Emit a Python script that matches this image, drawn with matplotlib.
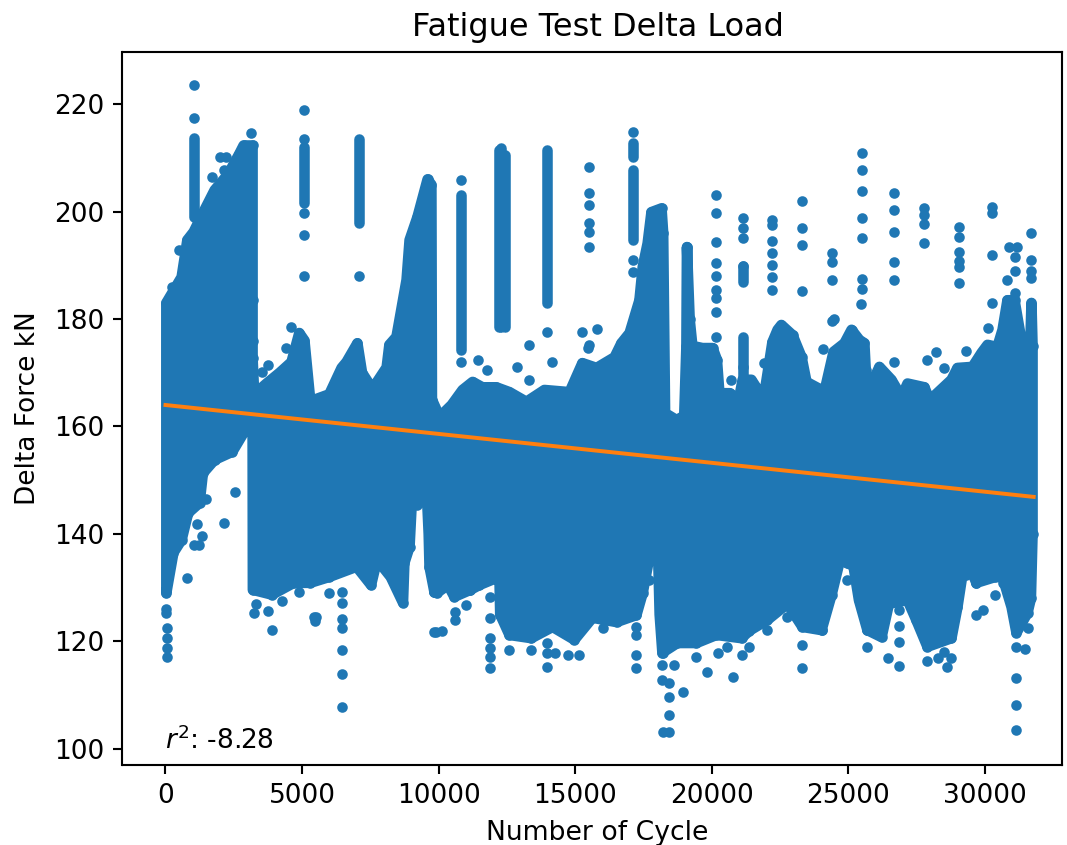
import numpy as np
import matplotlib
matplotlib.use("Agg")
import matplotlib.pyplot as plt

# The dense part of the scatter cannot be read point by point, so it is kept
# as its outline: top and bottom edges of the cloud.
upper_cycle = [30, 590, 800, 1030, 1430, 1800, 2300, 2710, 2860, 3190, 3190, 3190, 3190, 3250, 3700, 4180,
               4615, 4900, 5090, 5300, 5460, 6000, 6450, 6630, 7030, 7200, 7580, 8100, 8200, 8460, 8830,
               8940, 9230, 9600, 9740, 9760, 10040, 10480, 10880, 11250, 11610, 12120, 12600, 13220, 13880,
               14800, 15270, 15790, 16450, 16700, 17000, 17360, 17480, 17660, 17800, 18170, 18230, 18300,
               18720, 19000, 19080, 19100, 19200, 19300, 19670, 20040, 20200, 20290, 20660, 21000, 21140,
               21460, 21650, 21940, 22230, 22420, 22560, 22970, 23300, 23480, 24030, 24150, 24470, 24870,
               25130, 25420, 25600, 25650, 25710, 26150, 26590, 26960, 27180, 27800, 27990, 28790, 29010,
               29560, 29890, 30110, 30470, 30660, 30840, 31100, 31350, 31460, 31650, 31720, 31760]
upper_force = [183, 187.8, 194.7, 196.2, 200.3, 204, 207, 210.8, 212.3, 212.3, 183.5, 176, 172.7, 166, 168,
               170, 172, 177.4, 176, 165, 165, 166, 170.9, 172, 175.5, 170, 167, 171, 175.2, 176.7, 187.3,
               194.7, 199, 206, 205, 165, 161.8, 164, 166.8, 168.3, 167.3, 167.3, 166.4, 164.6, 166.8,
               166.4, 171.8, 170.9, 172.9, 175.5, 177.4, 183.5, 189.7, 194.1, 199.9, 200.6, 196, 162.5,
               161.2, 162, 175, 193.4, 180, 175, 174.6, 174.6, 172.4, 166.2, 166.2, 165, 168.7,
               168.7, 167.2, 166.2, 175.7, 178, 178.9, 177, 172.9, 168.3, 166.8, 166.8, 173.9, 175.5,
               178, 176.1, 175.5, 170.5, 166.2, 171.1, 168.7, 165.5, 168, 167.3, 164.9, 168.7, 170.9,
               171.1, 173.7, 175.2, 174.8, 178, 183.5, 183.5, 176.1, 170.5, 170.5, 183, 175]
lower_cycle = [30, 290, 590, 830, 1250, 1370, 1800, 2450, 3000, 3190, 3200, 3900, 4700, 5300, 6000, 7000,
               7530, 7750, 8250, 8700, 8750, 8940, 9050, 9370, 9550, 9640, 9670, 9850, 9930, 10350, 10580,
               11170, 11500, 12120, 12200, 12260, 12600, 13400, 14180, 14980, 15640, 16520, 17250, 17480,
               17700, 17840, 17900, 18050, 18100, 18200, 18750, 19450, 20180, 21100, 21390, 22050, 22780,
               23330, 24030, 24400, 24700, 24980, 25200, 25400, 25710, 26230, 26500, 27180, 27500, 27910,
               28790, 29010, 29300, 29700, 30400, 30660, 30990, 31170, 31575, 31700, 31760]
lower_force = [129, 136.5, 138.9, 143.9, 145.8, 151.3, 153.8, 155.3, 160, 161.6, 129.6, 128.7, 130.9, 130.9,
               132, 133.9, 130.5, 135.2, 132, 127.2, 134.6, 137.6, 148.7, 146, 150, 140, 133.9, 129.2, 129,
               130.5, 128.3, 129.6, 130.5, 131.8, 140, 125, 121.2, 120.6, 122.7, 120.3, 124.4, 123.6, 124.9,
               129, 135, 141.3, 148, 135, 125, 117.9, 119.7, 119.7, 121.2, 120.6, 122, 124, 127,
               122.7, 122.1, 128.7, 135, 134.6, 134, 127.7, 122.1, 120.8, 127, 127.7, 124, 119,
               120.6, 126.4, 136, 130.9, 132, 132, 126.4, 121.6, 125.3, 128, 140]

# Runs of overlapping points that stand above the cloud
run_cycle = [1030, 5090, 7070, 10840, 12200, 12300, 12450, 13990, 17140, 17140, 19120, 21140, 21140]
run_low = [199, 201.6, 197.9, 174.2, 178.5, 178.5, 178.5, 183, 194.7, 210.1, 181, 186.9, 168.7]
run_high = [213.7, 212, 213.6, 203, 211.4, 211.8, 210.5, 211.4, 207.7, 212.7, 193.4, 189.9, 176.6]

# Single points that can be told apart
dot_cycle = [30, 30, 50, 50, 60, 40, 220, 510, 590, 1030, 1030, 1720, 2160, 1980, 2230, 3150,
             2650, 2530, 2160, 1500, 1170, 1320, 1050, 1230, 770, 3520, 3770, 4430, 4615,
             5090, 5090, 5090, 5090, 5090, 7070, 6480, 6480, 6480, 6480, 6480, 6480, 6480,
             3240, 3300, 3760, 3900, 4280, 4900, 5440, 5520, 5460, 6000, 9230, 9850, 9850,
             9920, 10110, 10590, 10590, 11020, 11170, 11870, 11870, 11870, 11870, 11870, 11870,
             12600, 13400, 13960, 13990, 14250, 13960, 14730, 15160, 16010, 17250, 17250, 17250, 17250, 17700,
             18230, 18200, 18610, 18200, 18430, 18430, 18430, 18230, 18430, 18970, 19450, 19820,
             20220, 20550, 20800, 21100, 21390, 22050, 22780, 23330, 23330, 24030, 24980,
             25710, 25710, 26450, 26850, 26850, 26850, 26850, 27910, 28280, 28640, 28790, 28530,
             29340, 29700, 29700, 29960, 30400, 30660, 31170, 31170, 31170, 31170, 31170, 31500, 31575,
             10840, 10840, 11430, 11760, 13330, 12890, 13330, 14140, 13990, 15530, 15530, 15530, 15530, 15530,
             15530, 15240, 15820, 15530, 15460, 17140, 17140, 17140, 20180, 20180, 20180, 20180, 20180,
             20180, 20180, 20180, 20180, 20730, 21140, 21140, 21140, 21140, 21140, 22230, 22230, 22230,
             22230, 22230, 22230, 22230, 23300, 23300, 23300, 23300, 24400, 24400, 24400, 24400, 24470,
             25530, 25530, 25530, 25530, 25530, 25530, 25530, 25480, 26670, 26670, 26670, 26670, 26670,
             26670, 27800, 27800, 27800, 27800, 29050, 29050, 29050, 29050, 29050, 29050, 30260, 30260,
             30260, 30260, 30110, 21940, 24070, 27900, 28210, 28500, 29340, 30880, 31200, 31100, 31100,
             30840, 31100, 31720, 31720, 31720, 31720]
dot_force = [125.3, 126, 122.5, 120.6, 118.8, 117.1, 186, 192.8, 187.8, 223.5, 217.4, 206.4, 207.7, 210.2,
             210.2, 214.6, 158.8, 147.8, 142, 146.5, 141.9, 139.6, 138, 138, 131.8, 170.2, 171.4, 174.6,
             178.5, 218.9, 213.6, 199.7, 195.6, 188, 188, 129.2, 127.2, 124.2, 122.5, 118.4, 114, 107.8,
             125.3, 127, 125.7, 122.1, 127.5, 129.2, 124.6, 124.6, 123.8, 129, 145.4, 129.2, 121.8,
             121.8, 122, 125.5, 124, 126.8, 129.6, 128.3, 124.4, 120.6, 118.8, 117.1, 115,
             118.4, 118.4, 119.7, 115.2, 117.9, 117.9, 117.5, 117.5, 122.5, 122.7, 121.2, 117.5, 115, 131.4,
             117.9, 115.6, 115.6, 112.8, 112.3, 109.7, 106.3, 103.2, 103.2, 110.6, 117.1, 114.3,
             117.9, 119, 113.4, 117.5, 119, 122.1, 124.6, 119.3, 115, 122.1, 131.4,
             122.1, 119, 116.9, 125.9, 122.9, 119.9, 115.4, 116.4, 116.9, 115.3, 116.9, 118,
             132.4, 124.9, 130.9, 125.9, 128.7, 130.9, 123.4, 119, 113.2, 108.2, 103.5, 118.6, 122.5,
             205.9, 172, 172.4, 170.5, 175.2, 171.1, 168.7, 172, 177.6, 208.3, 203.4, 201.2, 197.9, 196.2,
             193.4, 177.6, 178.1, 175.2, 174.6, 214.8, 191, 188.7, 203, 199.7, 194.3, 190.4, 188,
             185.4, 183.9, 181.3, 176.6, 168.7, 198.8, 196.9, 195, 189.9, 171.1, 198.4, 197.5, 194.5,
             192.3, 190, 187.8, 185.4, 202, 196.9, 193.8, 185.2, 192.3, 190.6, 187.3, 179.6, 180,
             210.9, 207.7, 203.8, 198.8, 195.1, 187.4, 185.6, 182.8, 203.4, 200.3, 196.2, 190.6, 187.3,
             172, 200.6, 199.3, 197.7, 194.1, 197.1, 195.3, 192.5, 190.8, 189.7, 186.7, 200.8, 199.7,
             191.9, 183, 178.3, 171.8, 174.4, 172.4, 173.9, 170.9, 174, 193.4, 193.4, 191.5, 189,
             187.3, 184.8, 196, 191, 189, 187.6]

fit_cycle = [0, 31800]
fit_force = [164, 146.9]

BLUE = "#1f77b4"
DPI = 190
POINT_WIDTH = 4  # drawn width of a '.' marker, in points


def plot_fatigue():
    fig = plt.figure(figsize=(1067 / DPI, 845 / DPI), dpi=DPI)
    ax = fig.add_axes([122.5 / 1067, 1 - 765 / 845, 939 / 1067, 713 / 845])

    # Outline of the cloud, with a round edge as wide as one point
    outline_x = np.r_[upper_cycle, lower_cycle[::-1]]
    outline_y = np.r_[upper_force, lower_force[::-1]]
    ax.fill(outline_x, outline_y, facecolor=BLUE, edgecolor=BLUE,
            linewidth=POINT_WIDTH, joinstyle="round")
    ax.vlines(run_cycle, run_low, run_high, color=BLUE,
              linewidth=POINT_WIDTH, capstyle="round")
    ax.plot(dot_cycle + upper_cycle + lower_cycle, dot_force + upper_force + lower_force, ".", color=BLUE)

    # Fitted line
    ax.plot(fit_cycle, fit_force, color="#ff7f0e")

    ax.text(0, 100, "$r^2$: -8.28", fontsize=10)
    ax.set_title("Fatigue Test Delta Load", fontsize=12.15, x=0.506)
    ax.set_xlabel("Number of Cycle", fontsize=10.1, x=0.506)
    ax.set_ylabel("Delta Force kN", labelpad=5)
    ax.set_xlim(-1575, 32820)
    ax.set_ylim(97, 229.7)

    fig.savefig("out.png", dpi=DPI)


if __name__ == "__main__":
    plot_fatigue()
